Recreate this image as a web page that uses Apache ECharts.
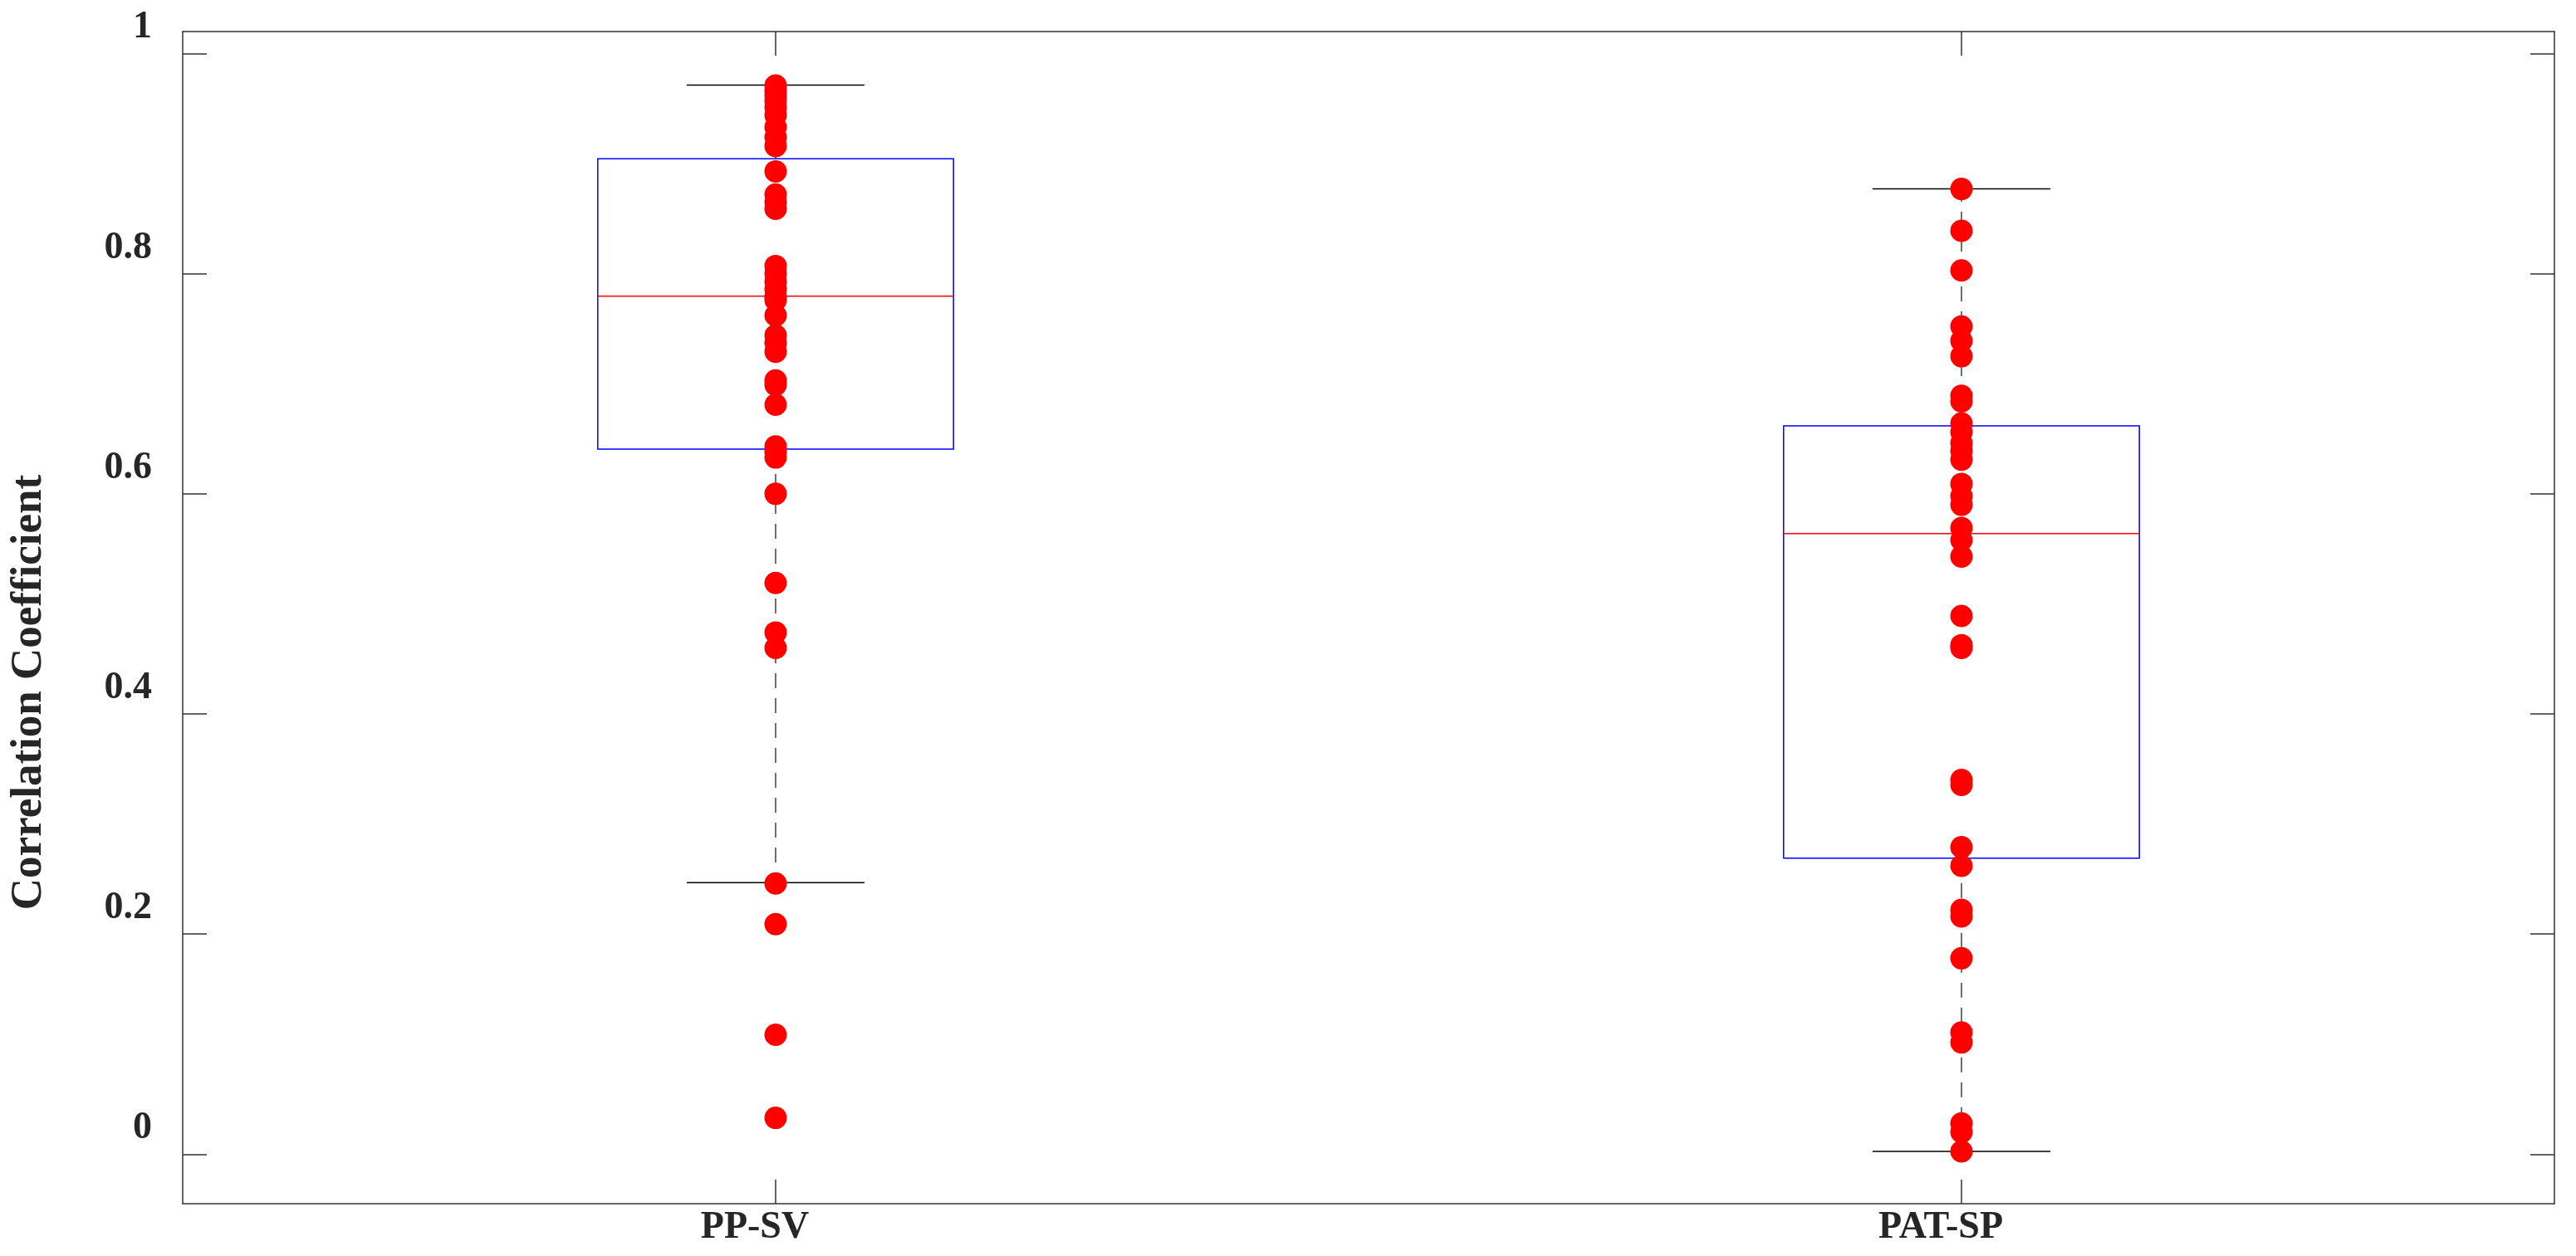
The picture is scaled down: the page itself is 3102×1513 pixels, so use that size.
<!DOCTYPE html>
<html>
<head>
<meta charset="utf-8">
<script src="https://cdn.jsdelivr.net/npm/echarts@6/dist/echarts.min.js"></script>
<style>
html, body { margin: 0; padding: 0; background: #ffffff; }
#chart { width: 3102px; height: 1513px; }
</style>
</head>
<body>
<div id="chart"></div>
<script>
// ---- data ----
const categories = ['PP-SV', 'PAT-SP'];

const ppsvValues = [0.971, 0.966, 0.962, 0.957, 0.951, 0.944, 0.933, 0.924, 0.916,
  0.893, 0.872, 0.865, 0.859, 0.807, 0.800, 0.793, 0.786, 0.779, 0.776, 0.762,
  0.744, 0.737, 0.729, 0.703, 0.699, 0.681, 0.643, 0.638, 0.633, 0.600, 0.519,
  0.474, 0.460, 0.246, 0.209, 0.1085, 0.033];

const patspValues = [0.877, 0.839, 0.803, 0.752, 0.739, 0.725, 0.689, 0.684, 0.664,
  0.656, 0.646, 0.639, 0.631, 0.609, 0.598, 0.590, 0.569, 0.558, 0.543, 0.489,
  0.4625, 0.460, 0.340, 0.3355, 0.279, 0.262, 0.222, 0.216, 0.178, 0.1106, 0.1015,
  0.028, 0.020, 0.0025];

// box statistics per category (PP-SV, PAT-SP)
const whiskerLow  = [0.2467, 0.0026];
const quartile1   = [0.6406, 0.2690];
const median      = [0.7795, 0.5638];
const quartile3   = [0.9045, 0.6617];
const whiskerHigh = [0.9713, 0.8771];

const yTickValues = [0, 0.2, 0.4, 0.6, 0.8, 1];
const yMin = -0.045;
const yMax = 1.02;
const yTitle = 'Correlation Coefficient';

// ---- build ----
const boxData = categories.map((c, i) =>
  [i, whiskerLow[i], quartile1[i], median[i], quartile3[i], whiskerHigh[i]]);
const pointData = [];
ppsvValues.forEach(v => pointData.push([0, v]));
patspValues.forEach(v => pointData.push([1, v]));

const FONT = 'Liberation Serif';
const TXT = '#262626';
const AX = '#333333';

function renderBox(params, api) {
  const idx = api.value(0);
  const lo = api.value(1), q1 = api.value(2), med = api.value(3), q3 = api.value(4), hi = api.value(5);
  const band = api.size([1, 0])[0];
  const hb = band * 0.15;
  const hc = band * 0.075;
  const cx = api.coord([idx, med])[0];
  const y = v => api.coord([idx, v])[1];
  const dash = { stroke: '#222222', lineWidth: 1.3, lineDash: [18, 12] };
  const solid = { stroke: '#000000', lineWidth: 1.5 };
  return {
    type: 'group',
    children: [
      { type: 'line', shape: { x1: cx, y1: y(q3), x2: cx, y2: y(hi) }, style: dash },
      { type: 'line', shape: { x1: cx, y1: y(q1), x2: cx, y2: y(lo) }, style: dash },
      { type: 'line', shape: { x1: cx - hc, y1: y(hi), x2: cx + hc, y2: y(hi) }, style: solid },
      { type: 'line', shape: { x1: cx - hc, y1: y(lo), x2: cx + hc, y2: y(lo) }, style: solid },
      { type: 'rect', shape: { x: cx - hb, y: y(q3), width: 2 * hb, height: y(q1) - y(q3) },
        style: { fill: 'none', stroke: '#0000ff', lineWidth: 1.5 } },
      { type: 'line', shape: { x1: cx - hb, y1: y(med), x2: cx + hb, y2: y(med) },
        style: { stroke: '#ff0000', lineWidth: 1.5 } }
    ]
  };
}

const chart = echarts.init(document.getElementById('chart'), null, { renderer: 'canvas' });

const tickCommon = { show: true, inside: true, length: 29, alignWithLabel: true,
  lineStyle: { color: AX, width: 1.5 } };

chart.setOption({
  animation: false,
  backgroundColor: '#ffffff',
  grid: { left: 220, right: 26, top: 38, bottom: 63, containLabel: false },
  xAxis: [
    {
      type: 'category', data: categories, position: 'bottom', boundaryGap: true,
      axisLine: { show: true, onZero: false, lineStyle: { color: AX, width: 1.5 } },
      axisTick: tickCommon,
      axisLabel: { show: true, margin: 6, fontFamily: FONT, fontWeight: 'bold', fontSize: 46,
        color: TXT, lineHeight: 46, padding: [0, 50, 0, 0] },
      splitLine: { show: false }
    },
    {
      type: 'category', data: categories, position: 'top', boundaryGap: true,
      axisLine: { show: true, onZero: false, lineStyle: { color: AX, width: 1.5 } },
      axisTick: tickCommon,
      axisLabel: { show: false },
      splitLine: { show: false }
    }
  ],
  yAxis: [
    {
      type: 'value', position: 'left', min: yMin, max: yMax,
      name: yTitle, nameLocation: 'middle', nameGap: 158,
      nameTextStyle: { fontFamily: FONT, fontWeight: 'bold', fontSize: 53, color: TXT,
        lineHeight: 53, padding: [0, 180, 0, 0] },
      axisLine: { show: true, onZero: false, lineStyle: { color: AX, width: 1.5 } },
      axisTick: { show: true, inside: true, length: 29, customValues: yTickValues,
        lineStyle: { color: AX, width: 1.5 } },
      axisLabel: { show: true, customValues: yTickValues, margin: 37, fontFamily: FONT,
        fontWeight: 'bold', fontSize: 46, color: TXT, lineHeight: 46,
        verticalAlign: 'bottom', padding: [0, 0, 8, 0],
        formatter: v => String(Math.round(v * 10) / 10) },
      splitLine: { show: false }
    },
    {
      type: 'value', position: 'right', min: yMin, max: yMax,
      axisLine: { show: true, onZero: false, lineStyle: { color: AX, width: 1.5 } },
      axisTick: { show: true, inside: true, length: 29, customValues: yTickValues,
        lineStyle: { color: AX, width: 1.5 } },
      axisLabel: { show: false },
      splitLine: { show: false }
    }
  ],
  series: [
    {
      type: 'custom', xAxisIndex: 0, yAxisIndex: 0,
      renderItem: renderBox,
      encode: { x: 0, y: [1, 2, 3, 4, 5] },
      data: boxData, z: 2
    },
    {
      type: 'scatter', xAxisIndex: 0, yAxisIndex: 0,
      symbol: 'circle', symbolSize: 27,
      itemStyle: { color: '#ff0000', opacity: 1 },
      data: pointData, z: 5
    }
  ]
});
</script>
</body>
</html>
